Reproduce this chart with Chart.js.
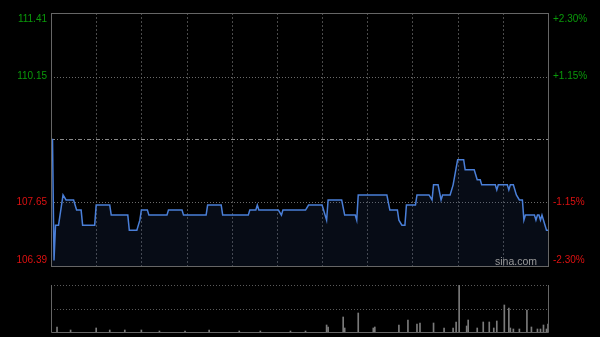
<!DOCTYPE html>
<html>
<head>
<meta charset="utf-8">
<script src="https://cdn.jsdelivr.net/npm/chart.js@4.4.1/dist/chart.umd.min.js"></script>
<style>
html,body{margin:0;padding:0;background:#000;}
#wrap{position:relative;width:600px;height:337px;background:#000;overflow:hidden;}
canvas{position:absolute;left:0;}
</style>
</head>
<body>
<div id="wrap">
<canvas id="price" width="600" height="280" style="top:0"></canvas>
<canvas id="vol" width="600" height="57" style="top:280px"></canvas>
</div>
<script>
// ---- data (minutes from 09:30 open, HK session, 330 trading minutes) ----
const sessionMinutes = 330;
const prevClose = 108.90;
const priceTicks = [111.41, 110.15, 108.90, 107.65, 106.39];
const leftLabels = ['111.41', '110.15', '', '107.65', '106.39'];
const rightLabels = ['+2.30%', '+1.15%', '', '-1.15%', '-2.30%'];
const gridMinutes = [30, 60, 90, 120, 150, 180, 210, 240, 270, 300];

const priceMinutes = [0,1,2,3,5,8,10,15,17,20,21,29,30,39,40,51,52,57,59,60,64,65,77,78,87,88,103,104,113,114,131,132,136,137,138,151,153,154,169,171,180,183,184,193,195,202,203,204,223,225,230,231,233,235,236,242,243,251,253,254,257,259,260,265,267,270,274,275,281,283,285,286,295,296,297,303,304,305,307,309,311,313,314,315,321,322,323,324,325,326,329,330];
const prices = [108.90,108.90,106.50,107.20,107.20,107.80,107.70,107.70,107.50,107.50,107.20,107.20,107.60,107.60,107.40,107.40,107.10,107.10,107.30,107.50,107.50,107.40,107.40,107.50,107.50,107.40,107.40,107.60,107.60,107.40,107.40,107.50,107.50,107.60,107.50,107.50,107.40,107.50,107.50,107.60,107.60,107.30,107.70,107.70,107.40,107.40,107.30,107.80,107.80,107.50,107.50,107.30,107.20,107.20,107.60,107.60,107.80,107.80,107.70,108.00,108.00,107.70,107.80,107.80,108.00,108.50,108.50,108.30,108.30,108.10,108.10,108.00,108.00,107.90,108.00,108.00,107.90,108.00,108.00,107.80,107.70,107.70,107.30,107.40,107.40,107.30,107.40,107.40,107.30,107.40,107.10,107.10];

const volMinutes = [4,13,30,39,49,60,72,89,105,125,139,159,169,183,184,194,195,204,214,215,231,237,243,245,254,261,267,269,271,276,277,283,287,291,294,296,301,304,305,307,311,316,319,323,325,327,329,330];
const volumes = [5,2,4,2,2,2,1,1,2,1,1,1,1,7,5,15,4,19,4,5,7,12,8,9,9,4,4,10,47,6,12,4,10,10,4,11,27,24,4,3,3,22,5,3,3,7,3,8];

const GREEN = '#0a9a0a', RED = '#dd1111';
const FONT = '10px "Liberation Sans", Arial, sans-serif';

const pricePoints = priceMinutes.map((m, i) => ({x: m, y: prices[i]}));
const volPoints = volMinutes.map((m, i) => ({x: m, y: volumes[i]}));

const priceFrame = {
  id: 'priceFrame',
  beforeDatasetsDraw(chart) {
    const {ctx, chartArea: a, scales: {x, y}} = chart;
    ctx.save();
    ctx.lineWidth = 1;
    ctx.strokeStyle = '#4a4a4a';
    ctx.setLineDash([2, 2]);
    gridMinutes.forEach(m => {
      const px = Math.round(x.getPixelForValue(m)) + 0.5;
      ctx.beginPath(); ctx.moveTo(px, a.top); ctx.lineTo(px, a.bottom); ctx.stroke();
    });
    priceTicks.forEach(v => {
      if (v === priceTicks[0] || v === priceTicks[priceTicks.length - 1]) return;
      const py = Math.round(y.getPixelForValue(v)) + 0.5;
      if (v === prevClose) {
        ctx.strokeStyle = '#8a8a8a';
        ctx.setLineDash([4, 2, 1, 2]);
      } else {
        ctx.strokeStyle = '#6a6a6a';
        ctx.setLineDash([1, 2]);
      }
      ctx.beginPath(); ctx.moveTo(a.left, py); ctx.lineTo(a.right, py); ctx.stroke();
    });
    ctx.restore();
  },
  afterDraw(chart) {
    const {ctx, chartArea: a, scales: {y}} = chart;
    ctx.save();
    ctx.strokeStyle = '#666';
    ctx.lineWidth = 1;
    ctx.setLineDash([]);
    ctx.strokeRect(Math.round(a.left) + 0.5, Math.round(a.top) + 0.5, Math.round(a.right - a.left), Math.round(a.bottom - a.top));
    ctx.font = FONT;
    ctx.textBaseline = 'middle';
    priceTicks.forEach((v, i) => {
      if (!leftLabels[i]) return;
      let py = y.getPixelForValue(v);
      if (i === 0) py += 6;
      if (i === priceTicks.length - 1) py -= 6;
      ctx.fillStyle = v > prevClose ? GREEN : RED;
      ctx.textAlign = 'right';
      ctx.fillText(leftLabels[i], a.left - 4, py);
      ctx.textAlign = 'left';
      ctx.fillText(rightLabels[i], a.right + 5, py);
    });
    ctx.fillStyle = '#9a9a9a';
    ctx.textAlign = 'right';
    ctx.font = '10.5px "Liberation Sans", Arial, sans-serif';
    ctx.fillText('sina.com', a.right - 11, a.bottom - 4);
    ctx.restore();
  }
};

new Chart(document.getElementById('price'), {
  type: 'line',
  data: {
    datasets: [{
      data: pricePoints,
      borderColor: '#4a7fd8',
      borderWidth: 1.5,
      backgroundColor: 'rgba(40,70,130,0.17)',
      fill: 'start',
      pointRadius: 0,
      tension: 0
    }]
  },
  options: {
    responsive: false,
    animation: false,
    layout: {padding: {left: 51, right: 52, top: 13, bottom: 14}},
    plugins: {legend: {display: false}, tooltip: {enabled: false}},
    scales: {
      x: {type: 'linear', min: 0, max: sessionMinutes, display: false},
      y: {min: priceTicks[priceTicks.length - 1], max: priceTicks[0], display: false}
    }
  },
  plugins: [priceFrame]
});

const volFrame = {
  id: 'volFrame',
  beforeDatasetsDraw(chart) {
    const {ctx, chartArea: a} = chart;
    ctx.save();
    ctx.lineWidth = 1;
    ctx.strokeStyle = '#5a5a5a';
    ctx.setLineDash([1, 2]);
    [a.top, (a.top + a.bottom) / 2].forEach(yy => {
      const py = Math.round(yy) + 0.5;
      ctx.beginPath(); ctx.moveTo(a.left, py); ctx.lineTo(a.right, py); ctx.stroke();
    });
    ctx.setLineDash([]);
    ctx.strokeStyle = '#666';
    ctx.beginPath();
    ctx.moveTo(Math.round(a.left) + 0.5, a.top); ctx.lineTo(Math.round(a.left) + 0.5, Math.round(a.bottom) + 0.5);
    ctx.lineTo(Math.round(a.right) + 0.5, Math.round(a.bottom) + 0.5); ctx.lineTo(Math.round(a.right) + 0.5, a.top);
    ctx.stroke();
    ctx.restore();
  }
};

new Chart(document.getElementById('vol'), {
  type: 'bar',
  data: {
    datasets: [{
      data: volPoints,
      backgroundColor: '#7a7a7a',
      barThickness: 1,
      borderWidth: 0
    }]
  },
  options: {
    responsive: false,
    animation: false,
    layout: {padding: {left: 51, right: 52, top: 5, bottom: 5}},
    plugins: {legend: {display: false}, tooltip: {enabled: false}},
    scales: {
      x: {type: 'linear', min: 0, max: sessionMinutes, offset: false, display: false},
      y: {min: 0, max: Math.max(...volumes), display: false}
    }
  },
  plugins: [volFrame]
});
</script>
</body>
</html>
